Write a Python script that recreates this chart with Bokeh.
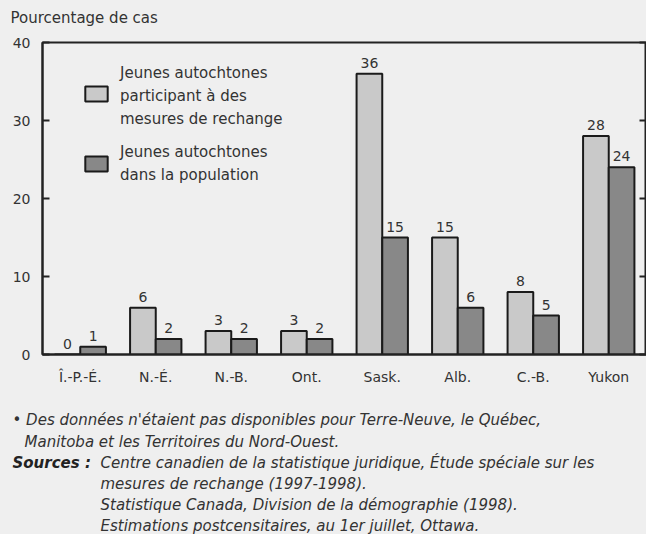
from bokeh.plotting import figure
from bokeh.layouts import column
from bokeh.models import (ColumnDataSource, FactorRange, Range1d, LinearAxis,
                          FixedTicker, LabelSet, Legend, LegendItem)
from bokeh.core.properties import value
from bokeh.transform import dodge
from bokeh.embed import file_html
from bokeh.resources import INLINE

provinces = ["Î.-P.-É.", "N.-É.", "N.-B.", "Ont.", "Sask.", "Alb.", "C.-B.", "Yukon"]
participants = [0, 6, 3, 3, 36, 15, 8, 28]
population = [1, 2, 2, 2, 15, 6, 5, 24]
y_ticks = [0, 10, 20, 30, 40]

title_text = "Pourcentage de cas"
legend_lines_1 = ["Jeunes autochtones", "participant à des", "mesures de rechange"]
legend_lines_2 = ["Jeunes autochtones", "dans la population"]
notes = [
    "• Des données n'étaient pas disponibles pour Terre-Neuve, le Québec,",
    "Manitoba et les Territoires du Nord-Ouest.",
]
sources_head = "Sources :"
sources = [
    "Centre canadien de la statistique juridique, Étude spéciale sur les",
    "mesures de rechange (1997-1998).",
    "Statistique Canada, Division de la démographie (1998).",
    "Estimations postcensitaires, au 1er juillet, Ottawa.",
]

FONT = "DejaVu Sans"
TXT = "#333333"
BG = "#efefef"
W = 646
H_TOP = 30
H_MAIN = 365
H_NOTES = 139


def text_panel(h):
    f = figure(x_range=Range1d(0, W), y_range=Range1d(h, 0), width=W, height=h,
               output_backend="svg", toolbar_location=None,
               x_axis_location=None, y_axis_location=None, min_border=0)
    f.background_fill_color = BG
    f.border_fill_color = BG
    f.outline_line_color = None
    f.xgrid.visible = False
    f.ygrid.visible = False
    return f


src = ColumnDataSource(dict(
    prov=provinces, part=participants, pop=population,
    part_lbl=[str(v) for v in participants],
    pop_lbl=[str(v) for v in population],
))

# ---- title panel
t = text_panel(H_TOP)
t.text(x=[10], y=[17], text=[title_text], text_font=value(FONT), text_font_size="15px",
       text_color=TXT, text_baseline="middle")

# ---- main chart (frame at picture x 42..645, y 42..354)
p = figure(x_range=FactorRange(factors=provinces, range_padding=0),
           y_range=Range1d(0, 40), width=W, height=H_MAIN,
           output_backend="svg", toolbar_location=None,
           min_border_left=42, min_border_right=0,
           min_border_top=12, min_border_bottom=41)
p.background_fill_color = BG
p.border_fill_color = BG
p.outline_line_color = "#222222"
p.outline_line_width = 2
p.xgrid.visible = False
p.ygrid.visible = False

off = 0.17
r1 = p.vbar(x=dodge("prov", -off, range=p.x_range), top="part", bottom=0, width=0.34,
            source=src, fill_color="#c9c9c9", line_color="#1a1a1a", line_width=2)
r2 = p.vbar(x=dodge("prov", off, range=p.x_range), top="pop", bottom=0, width=0.34,
            source=src, fill_color="#888888", line_color="#1a1a1a", line_width=2)
# fully transparent helper used only for text-only legend rows
r_txt = p.vbar(x="prov", top="pop", bottom=0, width=0.01, source=src,
               fill_alpha=0, line_alpha=0)

for fld, lbl, d in (("part", "part_lbl", -off), ("pop", "pop_lbl", off)):
    p.add_layout(LabelSet(x=dodge("prov", d, range=p.x_range), y=fld, text=lbl, source=src,
                          text_align="center", text_baseline="bottom", y_offset=6,
                          text_font=value(FONT), text_font_size="14px", text_color=TXT))

xa = p.xaxis[0]
xa.axis_line_color = "#222222"
xa.axis_line_width = 2
xa.major_tick_in = 0
xa.major_tick_out = 0
xa.minor_tick_line_color = None
xa.major_label_standoff = 14
xa.major_label_text_font = FONT
xa.major_label_text_font_size = "14px"
xa.major_label_text_color = TXT

ya = p.yaxis[0]
ya.ticker = FixedTicker(ticks=y_ticks)
ya.axis_line_color = "#222222"
ya.axis_line_width = 2
ya.major_tick_in = 7
ya.major_tick_out = 0
ya.major_tick_line_color = "#222222"
ya.major_tick_line_width = 2
ya.minor_tick_line_color = None
ya.major_label_standoff = 12
ya.major_label_text_font = FONT
ya.major_label_text_font_size = "14px"
ya.major_label_text_color = TXT

ra = LinearAxis(ticker=FixedTicker(ticks=y_ticks), axis_line_color="#222222", axis_line_width=2,
                major_tick_in=7, major_tick_out=0, major_tick_line_color="#222222",
                major_tick_line_width=2, minor_tick_line_color=None,
                major_label_overrides={t_: "" for t_ in y_ticks},
                major_label_standoff=0, major_label_text_font_size="1px")
p.add_layout(ra, "right")

common = dict(orientation="vertical", padding=0, margin=0, border_line_color=None,
              background_fill_alpha=0, label_text_font=FONT, label_text_font_size="15px",
              label_text_color=TXT)

# legend locations: offset of the legend's bottom-left from the frame's bottom-left,
# the frame's bottom-left being at picture (42, 354)
sw = Legend(items=[LegendItem(label=" ", renderers=[r1]),
                   LegendItem(label=" ", renderers=[r2])],
            location=(40, 354 - 173), spacing=51, glyph_width=28, glyph_height=19,
            label_height=19, label_standoff=0, **common)
t1 = Legend(items=[LegendItem(label=s, renderers=[r_txt]) for s in legend_lines_1],
            location=(77, 354 - 128), spacing=5, glyph_width=1, glyph_height=18,
            label_height=18, label_standoff=0, **common)
t2 = Legend(items=[LegendItem(label=s, renderers=[r_txt]) for s in legend_lines_2],
            location=(77, 354 - 184), spacing=5, glyph_width=1, glyph_height=18,
            label_height=18, label_standoff=0, **common)
for lg in (sw, t1, t2):
    p.add_layout(lg)

# ---- footnote panel
n = text_panel(H_NOTES)
row_y = [24, 46, 67, 88, 109, 130]
n.text(x=[12, 24], y=row_y[:2], text=notes, text_font=value(FONT), text_font_size="15px",
       text_font_style="italic", text_color=TXT, text_baseline="middle")
n.text(x=[12], y=[row_y[2]], text=[sources_head], text_font=value(FONT), text_font_size="15px",
       text_font_style="bold italic", text_color="#222222", text_baseline="middle")
n.text(x=[100] * len(sources), y=row_y[2:], text=sources, text_font=value(FONT),
       text_font_size="15px", text_font_style="italic", text_color=TXT, text_baseline="middle")

for fig in (t, p, n):
    if hasattr(fig, "frame_align"):
        fig.frame_align = False

layout = column(t, p, n, spacing=0, styles={"background-color": BG})
open("out.html", "w").write(file_html(layout, INLINE))
